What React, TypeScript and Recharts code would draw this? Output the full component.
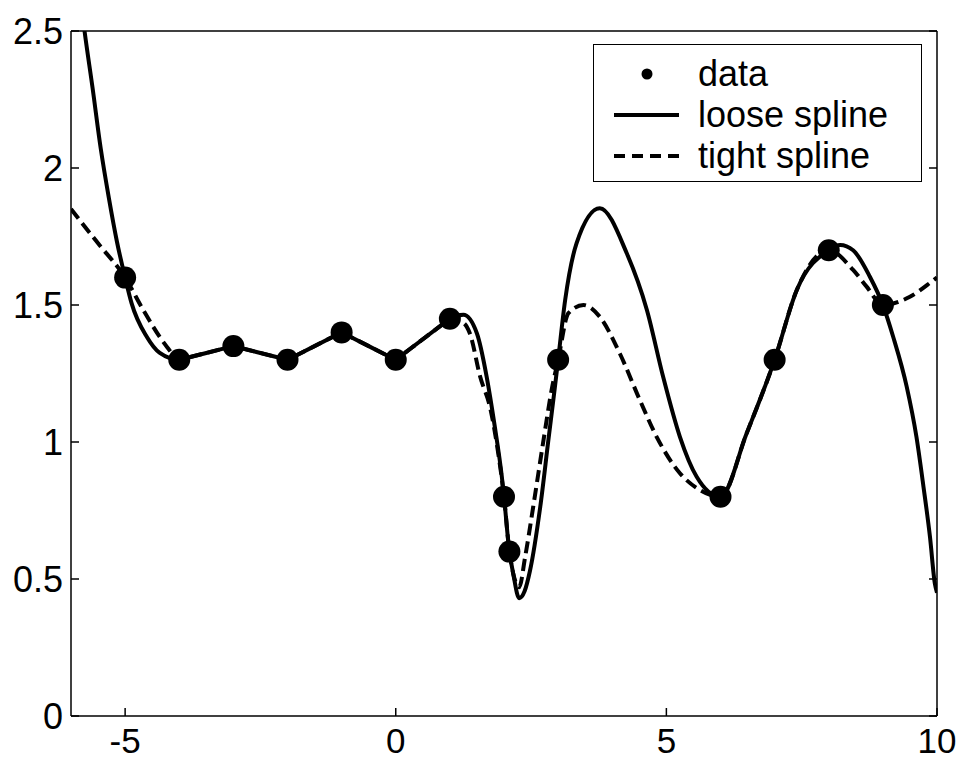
import {
  ComposedChart,
  Line,
  Scatter,
  XAxis,
  YAxis,
  Legend,
} from "recharts";

const FONT = "'Liberation Sans', Arial, Helvetica, sans-serif";

// measured data points
const dataX = [-5, -4, -3, -2, -1, 0, 1, 2, 2.1, 3, 6, 7, 8, 9];
const dataY = [1.6, 1.3, 1.35, 1.3, 1.4, 1.3, 1.45, 0.8, 0.6, 1.3, 0.8, 1.3, 1.7, 1.5];

// loose spline
const looseX = [
  -6, -5.75, -5.6, -5.45, -5.3, -5.15, -5, -4.88, -4.6, -4.36, -4, -3.85, -3.15, -3,
  -2.85, -2.15, -2, -1.85, -1.15, -1, -0.85, -0.15, 0, 0.15, 0.85, 1, 1.25, 1.5,
  1.68, 1.83, 1.96, 2, 2.1, 2.17, 2.28, 2.38, 2.48, 2.67, 2.82, 2.94, 3, 3.13, 3.34,
  3.77, 4.27, 4.64, 4.94, 5.25, 5.56, 6, 6.48, 7, 7.41, 8, 8.21, 8.45, 8.76, 9, 9.19,
  9.44, 9.62, 9.75, 9.87, 9.96, 10,
];
const looseY = [
  2.92, 2.5, 2.29, 2.07, 1.89, 1.73, 1.6, 1.506, 1.384, 1.325, 1.3, 1.3075, 1.3425, 1.35,
  1.3425, 1.3075, 1.3, 1.315, 1.385, 1.4, 1.385, 1.315, 1.3, 1.3225, 1.4275, 1.45, 1.464, 1.396,
  1.238, 1.056, 0.873, 0.8, 0.6, 0.52, 0.43, 0.455, 0.53, 0.764, 1.007, 1.2, 1.3, 1.518, 1.725,
  1.853, 1.688, 1.482, 1.238, 1.019, 0.873, 0.8, 1.03, 1.3, 1.555, 1.7, 1.719, 1.7, 1.603, 1.5, 1.384,
  1.202, 1.019, 0.837, 0.654, 0.484, 0.45,
];

// tight spline
const tightX = [
  -6, -5.5, -5, -4.66, -4.23, -4, -3.85, -3.15, -3, -2.85, -2.15, -2, -1.85, -1.15, -1,
  -0.85, -0.15, 0, 0.15, 0.85, 1, 1.25, 1.37, 1.56, 1.75, 1.9, 2, 2.1, 2.17, 2.28, 2.39,
  2.54, 2.73, 2.88, 3, 3.19, 3.47, 3.77, 4.14, 4.51, 4.82, 5.25, 5.62, 6, 6.48, 7, 7.41,
  8, 8.45, 8.7, 9, 9.5, 9.9, 10,
];
const tightY = [
  1.85, 1.725, 1.6, 1.48, 1.348, 1.3, 1.3075, 1.3425, 1.35, 1.3425, 1.3075, 1.3, 1.315, 1.385, 1.4,
  1.385, 1.315, 1.3, 1.3225, 1.4275, 1.45, 1.435, 1.396, 1.238, 1.12, 0.95, 0.8, 0.6, 0.52, 0.47, 0.58,
  0.764, 1.007, 1.19, 1.3, 1.47, 1.5, 1.457, 1.323, 1.153, 1.019, 0.886, 0.825, 0.8, 1.03, 1.3, 1.555,
  1.7, 1.628, 1.567, 1.5, 1.53, 1.585, 1.6,
];

const xTicks = [-5, 0, 5, 10];
const yTicks = [0, 0.5, 1, 1.5, 2, 2.5];

const zip = (xs: number[], ys: number[]) => xs.map((x, i) => ({ x, y: ys[i] }));
const points = zip(dataX, dataY);
const loose = zip(looseX, looseY);
const tight = zip(tightX, tightY);

const TICK = 8;

const BottomTick = ({ x, y, payload }: any) => (
  <g>
    <line x1={x} y1={y} x2={x} y2={y - TICK} stroke="#000" strokeWidth={1.5} />
    <text x={x} y={y + 12} dy="0.71em" textAnchor="middle" fontFamily={FONT} fontSize={35} fill="#000">
      {payload.value}
    </text>
  </g>
);

const LeftTick = ({ x, y, payload }: any) => (
  <g>
    <line x1={x} y1={y} x2={x + TICK} y2={y} stroke="#000" strokeWidth={1.5} />
    <text x={x - 8} y={y} dy="0.355em" textAnchor="end" fontFamily={FONT} fontSize={36} fill="#000">
      {payload.value}
    </text>
  </g>
);

const TopTick = ({ x, y }: any) => (
  <line x1={x} y1={y} x2={x} y2={y + TICK} stroke="#000" strokeWidth={1.5} />
);

const RightTick = ({ x, y }: any) => (
  <line x1={x} y1={y} x2={x - TICK} y2={y} stroke="#000" strokeWidth={1.5} />
);

const legendRows = [
  { label: "data", kind: "dot" },
  { label: "loose spline", kind: "solid" },
  { label: "tight spline", kind: "dash" },
];

const LegendBox = () => (
  <div
    style={{
      boxSizing: "border-box",
      width: 329,
      height: 138,
      border: "1.5px solid #000",
      background: "#fff",
      paddingTop: 8,
      fontFamily: FONT,
      fontSize: 36,
      color: "#000",
    }}
  >
    {legendRows.map((r) => (
      <div key={r.label} style={{ display: "flex", alignItems: "center", height: 41 }}>
        <svg width={65} height={20} style={{ marginLeft: 20 }}>
          {r.kind === "dot" && <circle cx={33} cy={10} r={5.5} fill="#000" />}
          {r.kind === "solid" && <line x1={0} y1={10} x2={65} y2={10} stroke="#000" strokeWidth={4} />}
          {r.kind === "dash" && (
            <line x1={0} y1={10} x2={65} y2={10} stroke="#000" strokeWidth={4} strokeDasharray="11 7" />
          )}
        </svg>
        <span style={{ marginLeft: 19, lineHeight: 1, whiteSpace: "nowrap" }}>{r.label}</span>
      </div>
    ))}
  </div>
);

export default function App() {
  return (
    <div style={{ position: "absolute", left: 0, top: 0, background: "#fff" }}>
      <ComposedChart width={961} height={762} margin={{ top: 21, right: 14, bottom: 16, left: 11 }}>
        <XAxis
          dataKey="x"
          type="number"
          domain={[-6, 10]}
          ticks={xTicks}
          allowDataOverflow
          height={30}
          tickSize={0}
          tickMargin={0}
          tickLine={false}
          axisLine={{ stroke: "#000", strokeWidth: 1.5 }}
          tick={<BottomTick />}
        />
        <XAxis
          xAxisId="top"
          orientation="top"
          type="number"
          domain={[-6, 10]}
          ticks={xTicks}
          allowDataOverflow
          height={10}
          tickSize={0}
          tickMargin={0}
          tickLine={false}
          axisLine={{ stroke: "#000", strokeWidth: 1.5 }}
          tick={<TopTick />}
        />
        <YAxis
          type="number"
          domain={[0, 2.5]}
          ticks={yTicks}
          allowDataOverflow
          width={60}
          tickSize={0}
          tickMargin={0}
          tickLine={false}
          axisLine={{ stroke: "#000", strokeWidth: 1.5 }}
          tick={<LeftTick />}
        />
        <YAxis
          yAxisId="right"
          orientation="right"
          type="number"
          domain={[0, 2.5]}
          ticks={yTicks}
          allowDataOverflow
          width={10}
          tickSize={0}
          tickMargin={0}
          tickLine={false}
          axisLine={{ stroke: "#000", strokeWidth: 1.5 }}
          tick={<RightTick />}
        />
        <Line
          data={tight}
          dataKey="y"
          type="monotone"
          stroke="#000"
          strokeWidth={4}
          strokeDasharray="12 6"
          dot={false}
          activeDot={false}
          isAnimationActive={false}
        />
        <Line
          data={loose}
          dataKey="y"
          type="monotone"
          stroke="#000"
          strokeWidth={4}
          dot={false}
          activeDot={false}
          isAnimationActive={false}
        />
        <Scatter
          data={points}
          dataKey="y"
          fill="#000"
          isAnimationActive={false}
          shape={(p: any) => <circle cx={p.cx} cy={p.cy} r={11} fill="#000" />}
        />
        <Legend
          layout="vertical"
          align="center"
          verticalAlign="middle"
          content={<LegendBox />}
          wrapperStyle={{ left: 593, top: 44, width: 329, height: 138 }}
        />
      </ComposedChart>
    </div>
  );
}
